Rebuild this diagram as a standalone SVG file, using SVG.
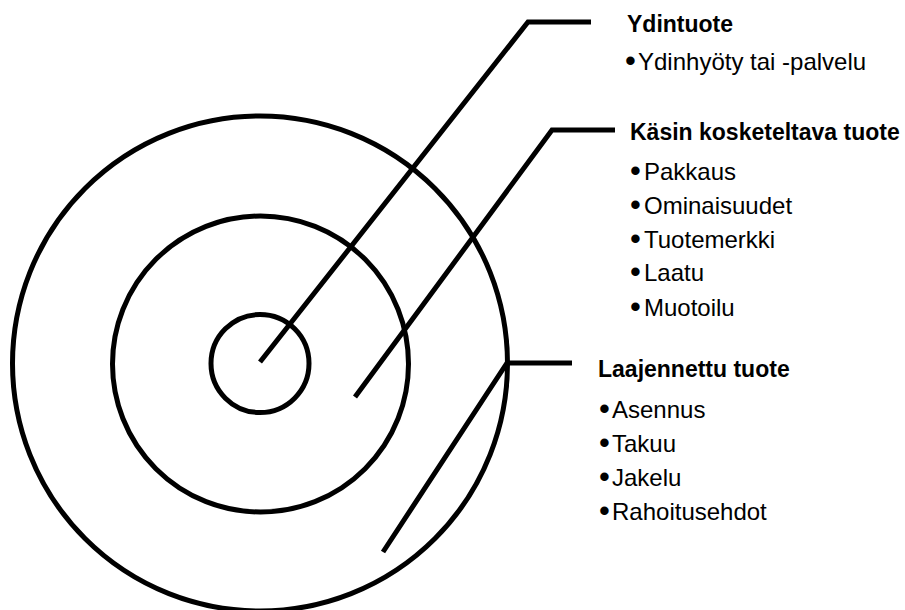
<svg xmlns="http://www.w3.org/2000/svg" width="905" height="610" viewBox="0 0 905 610">
  <style>
    .ring { fill: none; stroke: #000; stroke-width: 5; }
    .conn { fill: none; stroke: #000; stroke-width: 5; stroke-linejoin: miter; stroke-linecap: butt; }
    .title { font-family: "Liberation Sans", Arial, sans-serif; font-weight: bold; font-size: 23px; fill: #000; }
    .item { font-family: "Liberation Sans", Arial, sans-serif; font-size: 24px; fill: #000; }
    .bul { font-size: 31px; }
  </style>
  <rect width="905" height="610" fill="#fff"/>
  <g id="outer-ring"><circle class="ring" cx="260" cy="363.5" r="247.5"/></g>
  <g id="middle-ring"><circle class="ring" cx="260.5" cy="364" r="148"/></g>
  <g id="inner-ring"><circle class="ring" cx="260" cy="363.5" r="49"/></g>
  <g id="connectors">
    <polyline class="conn" points="260,362 528,22 591,22"/>
    <polyline class="conn" points="355,397 552,130 615,130"/>
    <polyline class="conn" points="383,552 507,363 572,363"/>
  </g>
  <g id="ydintuote">
    <text class="title" x="627" y="31.5">Ydintuote</text>
    <text class="item" x="625" y="70"><tspan class="bul" y="71">•</tspan><tspan x="638" y="70">Ydinhyöty tai -palvelu</tspan></text>
  </g>
  <g id="kasin-kosketeltava-tuote">
    <text class="title" x="630" y="140">Käsin kosketeltava tuote</text>
    <text class="item" x="630" y="179.5"><tspan class="bul" y="180.5">•</tspan><tspan x="644" y="179.5">Pakkaus</tspan></text>
    <text class="item" x="630" y="213.5"><tspan class="bul" y="214.5">•</tspan><tspan x="644" y="213.5">Ominaisuudet</tspan></text>
    <text class="item" x="630" y="247.5"><tspan class="bul" y="248.5">•</tspan><tspan x="644" y="247.5">Tuotemerkki</tspan></text>
    <text class="item" x="630" y="281"><tspan class="bul" y="282">•</tspan><tspan x="644" y="281">Laatu</tspan></text>
    <text class="item" x="630" y="315.5"><tspan class="bul" y="316.5">•</tspan><tspan x="644" y="315.5">Muotoilu</tspan></text>
  </g>
  <g id="laajennettu-tuote">
    <text class="title" x="598" y="377">Laajennettu tuote</text>
    <text class="item" x="599" y="418"><tspan class="bul" y="419">•</tspan><tspan x="612" y="418">Asennus</tspan></text>
    <text class="item" x="599" y="452"><tspan class="bul" y="453">•</tspan><tspan x="612" y="452">Takuu</tspan></text>
    <text class="item" x="599" y="486"><tspan class="bul" y="487">•</tspan><tspan x="612" y="486">Jakelu</tspan></text>
    <text class="item" x="599" y="520"><tspan class="bul" y="521">•</tspan><tspan x="612" y="520">Rahoitusehdot</tspan></text>
  </g>
</svg>
